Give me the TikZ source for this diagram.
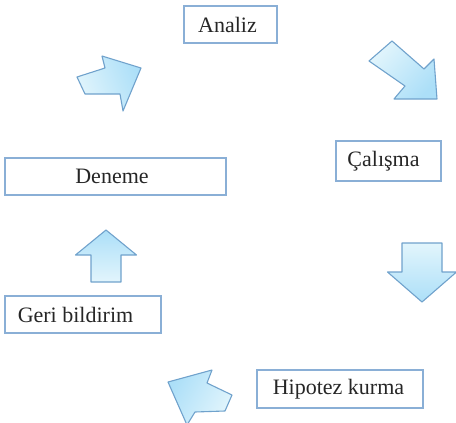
\documentclass[tikz,border=0pt]{standalone}
\usepackage{fontspec}
\setmainfont{Liberation Serif}
\definecolor{boxline}{RGB}{138,175,214}
\definecolor{arrline}{RGB}{112,162,204}
\definecolor{arrdark}{RGB}{172,223,248}
\definecolor{arrlight}{RGB}{226,245,252}
\tikzset{
  stage/.style={draw=boxline, line width=1.1pt, inner sep=0pt,
    font=\fontsize{22}{25}\selectfont, text=black!85},
  tleft/.style={execute at begin node={\hspace*{-#1}}},
  blockarrow/.style={draw=arrline, line width=1.1pt, line join=round,
    top color=arrdark, bottom color=arrlight, shading angle=#1},
}
% straight block arrow: #1,#2 tail centre; #3 angle; #4 shaft half width;
% #5 shaft length; #6 head half width; #7 head length; #8 shading angle
\newcommand\blockarr[8]{%
  \begin{scope}[shift={(#1,#2)}, rotate=#3]
    \draw[blockarrow=#8]
      (0,#4) -- (#5,#4) -- (#5,#6) -- ({#5+#7},0) -- (#5,-#6)
      -- (#5,-#4) -- (0,-#4) -- cycle;
  \end{scope}}
\begin{document}
\begin{tikzpicture}[x=1pt,y=-1pt]
  \useasboundingbox (0,0) rectangle (456,423);
  \node[stage, tleft=6pt, minimum width=93pt, minimum height=37pt] (analiz) at (230.5,24.5) {Analiz};
  \node[stage, tleft=10pt, minimum width=105pt, minimum height=40pt] (calisma) at (388.5,161) {Çalışma};
  \node[stage, tleft=7pt, minimum width=221pt, minimum height=37pt] (deneme) at (115.5,176.5) {Deneme};
  \node[stage, tleft=15pt, minimum width=156pt, minimum height=37pt] (geri) at (83,314.5) {Geri bildirim};
  \node[stage, tleft=3pt, minimum width=166pt, minimum height=38pt] (hipotez) at (340,389) {Hipotez kurma};
  % cycle arrows
  \draw[blockarrow=-68] (77,77) -- (85,94) -- (120,94) -- (123,111) -- (141,68)
    -- (102,56) -- (105,68) -- cycle;
  \draw[blockarrow=-132] (392,41) -- (369,61) -- (405,86) -- (394,99) -- (437,99)
    -- (434,59) -- (424,69) -- cycle;
  \blockarr{422}{243}{-90}{20}{29}{34.5}{30}{-180}
  \draw[blockarrow=60] (168,382) -- (212,370) -- (207,383) -- (232,395)
    -- (225,411) -- (195,412) -- (187,425) -- cycle;
  \blockarr{106}{282}{90}{15}{27}{30.5}{25}{0}
\end{tikzpicture}
\end{document}
